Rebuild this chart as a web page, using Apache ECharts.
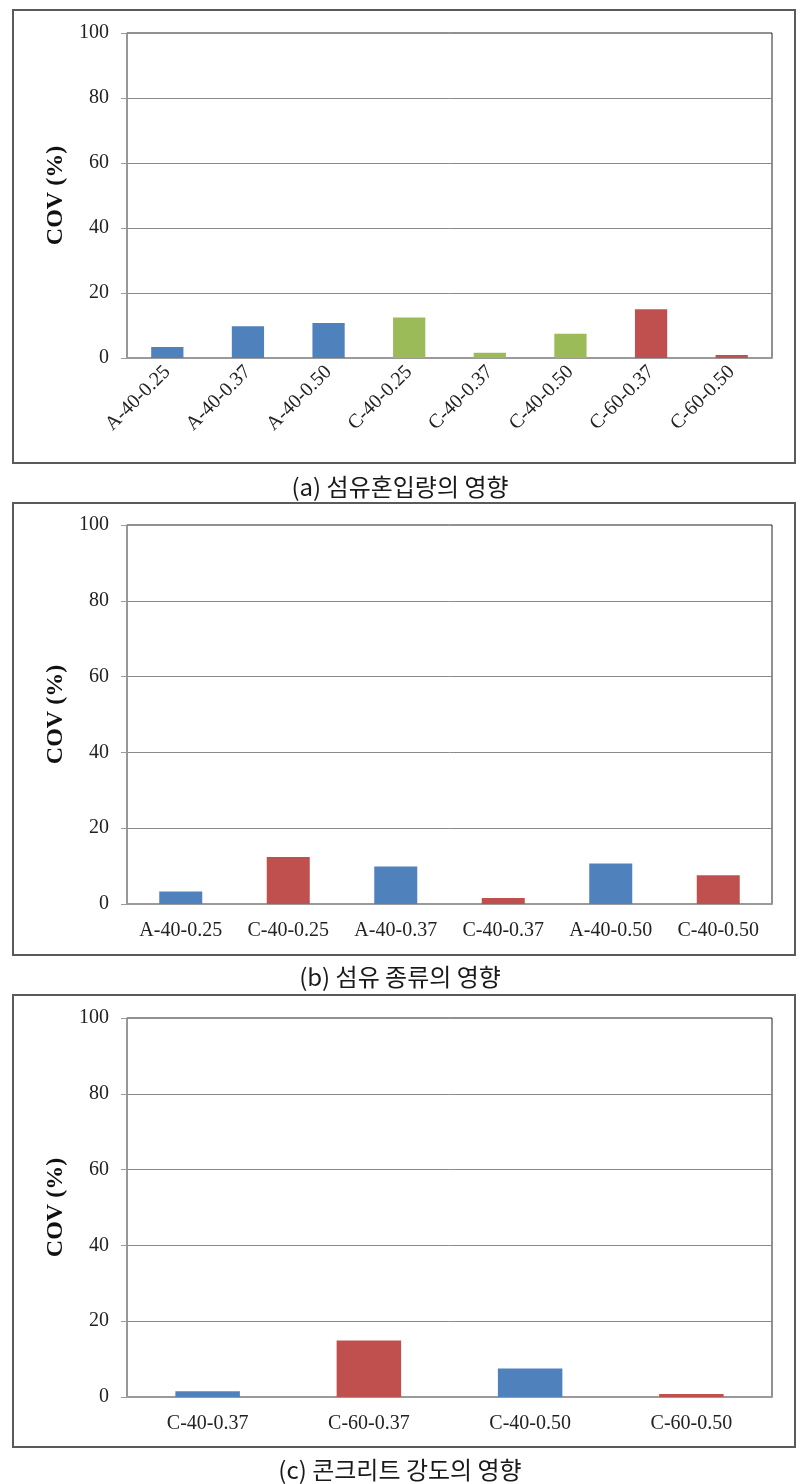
<!DOCTYPE html>
<html>
<head>
<meta charset="utf-8">
<script src="https://cdn.jsdelivr.net/npm/echarts@6/dist/echarts.min.js"></script>
<style>
html,body{margin:0;padding:0;background:#fff;}
#chart{width:806px;height:1484px;}
</style>
</head>
<body>
<div id="chart"></div>
<script>
// ---- data ----
const catsA = ['A-40-0.25','A-40-0.37','A-40-0.50','C-40-0.25','C-40-0.37','C-40-0.50','C-60-0.37','C-60-0.50'];
const valsA = [3.4, 9.8, 10.8, 12.5, 1.6, 7.5, 15.0, 0.9];
const groupA = ['A','A','A','C40','C40','C40','C60','C60'];

const catsB = ['A-40-0.25','C-40-0.25','A-40-0.37','C-40-0.37','A-40-0.50','C-40-0.50'];
const valsB = [3.3, 12.4, 9.9, 1.6, 10.7, 7.6];
const groupB = ['A','C','A','C','A','C'];

const catsC = ['C-40-0.37','C-60-0.37','C-40-0.50','C-60-0.50'];
const valsC = [1.5, 14.9, 7.5, 0.8];
const groupC = ['40','60','40','60'];

const yTicks = [0, 20, 40, 60, 80, 100];
const yTitle = 'COV (%)';
const captions = ['(a) 섬유혼입량의 영향', '(b) 섬유 종류의 영향', '(c) 콘크리트 강도의 영향'];

// ---- styles ----
const BLUE = '#4F81BD', GREEN = '#9BBB59', RED = '#C0504D';
const colorMaps = [
  {A: BLUE, C40: GREEN, C60: RED},
  {A: BLUE, C: RED},
  {'40': BLUE, '60': RED}
];
const SERIF = '"Liberation Serif","Times New Roman",serif';
const panels = [
  {cats: catsA, vals: valsA, groups: groupA, top: 33, height: 325, rotate: 45, frame: [13, 10, 782, 453], cap: 487},
  {cats: catsB, vals: valsB, groups: groupB, top: 525, height: 379, rotate: 0, frame: [13, 503, 782, 452], cap: 977},
  {cats: catsC, vals: valsC, groups: groupC, top: 1018, height: 379, rotate: 0, frame: [13, 995, 782, 452], cap: 1470}
];

const chart = echarts.init(document.getElementById('chart'), null, {renderer: 'canvas'});

const grids = [], xAxes = [], yAxes = [], series = [], graphics = [];
panels.forEach((p, i) => {
  grids.push({left: 127, top: p.top, width: 645, height: p.height, show: true,
    borderColor: '#222', borderWidth: 1, backgroundColor: 'transparent'});
  xAxes.push({
    type: 'category', gridIndex: i, data: p.cats,
    axisLine: {lineStyle: {color: '#9a9a9a', width: 2}},
    axisTick: {show: false},
    axisLabel: {
      interval: 0, rotate: p.rotate, color: '#222', fontFamily: SERIF, fontSize: 20,
      margin: p.rotate ? 11 : 17
    }
  });
  yAxes.push({
    type: 'value', gridIndex: i, min: yTicks[0], max: yTicks[yTicks.length - 1], interval: yTicks[1] - yTicks[0],
    name: yTitle, nameLocation: 'middle', nameRotate: 90, nameGap: 58,
    nameTextStyle: {fontFamily: SERIF, fontWeight: 'bold', fontSize: 24, color: '#111'},
    axisLine: {show: true, lineStyle: {color: '#9a9a9a', width: 1.5}},
    axisTick: {show: true, length: 6, lineStyle: {color: '#9a9a9a'}},
    axisLabel: {color: '#222', fontFamily: SERIF, fontSize: 20, margin: 18},
    splitLine: {show: true, showMaxLine: false, showMinLine: false, lineStyle: {color: '#8a8a8a', width: 1}}
  });
  series.push({
    type: 'bar', xAxisIndex: i, yAxisIndex: i, barWidth: '40%',
    data: p.vals.map((v, k) => ({value: v, itemStyle: {color: colorMaps[i][p.groups[k]]}}))
  });
  graphics.push({
    type: 'rect', shape: {x: p.frame[0], y: p.frame[1], width: p.frame[2], height: p.frame[3]},
    style: {fill: null, stroke: '#5a5a5a', lineWidth: 2}, z: 10
  });
  graphics.push({
    type: 'text', x: 400, y: p.cap,
    style: {text: captions[i], font: '24px "Noto Sans CJK KR","Noto Sans",sans-serif', fill: '#1a1a1a',
      textAlign: 'center', textVerticalAlign: 'middle'}
  });
});

chart.setOption({
  animation: false,
  backgroundColor: '#ffffff',
  grid: grids, xAxis: xAxes, yAxis: yAxes, series: series,
  graphic: graphics
});
</script>
</body>
</html>
